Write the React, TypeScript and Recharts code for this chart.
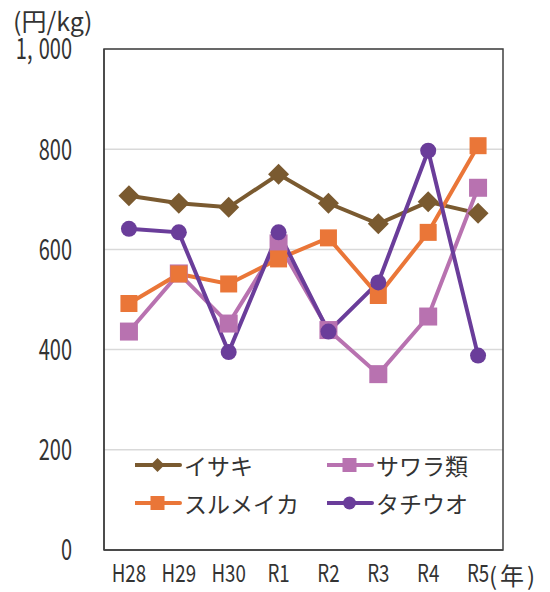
import React from 'react';
import {
  LineChart,
  Line,
  XAxis,
  YAxis,
  CartesianGrid,
  Legend,
  Label,
  ReferenceArea,
} from 'recharts';

// 年度
const years = ['H28', 'H29', 'H30', 'R1', 'R2', 'R3', 'R4', 'R5'];

// 魚種別の単価（円/kg）
const isaki = [707, 692, 684, 750, 692, 651, 695, 672];
const sawara = [436, 552, 452, 612, 439, 351, 466, 723];
const surumeika = [492, 551, 531, 581, 623, 508, 634, 807];
const tachiuo = [641, 634, 395, 634, 436, 534, 797, 388];

const yTicks = [0, 200, 400, 600, 800, 1000];

const data = years.map((year, i) => ({
  year,
  isaki: isaki[i],
  sawara: sawara[i],
  surumeika: surumeika[i],
  tachiuo: tachiuo[i],
}));

const FONT = "'Noto Sans CJK JP', 'Noto Sans', sans-serif";
const TEXT = '#333333';
const FRAME = '#404040';

const COLORS = {
  isaki: '#7a5a30',
  sawara: '#b872b0',
  surumeika: '#ea7638',
  tachiuo: '#6a3d9a',
};

type Shape = 'diamond' | 'square' | 'circle';

const Marker = ({ cx, cy, shape, color, size }: { cx: number; cy: number; shape: Shape; color: string; size: number }) => {
  if (shape === 'diamond') {
    const h = size / 2;
    return <polygon points={`${cx},${cy - h} ${cx + h},${cy} ${cx},${cy + h} ${cx - h},${cy}`} fill={color} />;
  }
  if (shape === 'square') {
    return <rect x={cx - size / 2} y={cy - size / 2} width={size} height={size} fill={color} />;
  }
  return <circle cx={cx} cy={cy} r={size / 2} fill={color} />;
};

const makeDot = (shape: Shape, color: string, size: number) => (props: any) => {
  const { cx, cy, index } = props;
  if (cx == null || cy == null) return <g key={index} />;
  return (
    <g key={`${shape}-${index}`}>
      <Marker cx={cx} cy={cy} shape={shape} color={color} size={size} />
    </g>
  );
};

// Narrow tick text, compressed horizontally around its anchor point;
// a thousands comma gets a little extra room after it
const NarrowTick = (props: any) => {
  const { x, y, payload, textAnchor, tickFormatter, dy, size, squeeze } = props;
  const value = String(tickFormatter ? tickFormatter(payload.value, payload.index) : payload.value);
  const parts = value.split(',');
  return (
    <text
      transform={`translate(${x},${y}) scale(${squeeze},1)`}
      textAnchor={textAnchor}
      dy={dy}
      fill={TEXT}
      fontSize={size}
      fontFamily={FONT}
    >
      {parts.map((p, i) => (
        <tspan key={i} dx={i > 0 ? 9 : 0}>
          {p}
          {i < parts.length - 1 ? ',' : ''}
        </tspan>
      ))}
    </text>
  );
};

const XTick = (props: any) => <NarrowTick {...props} dy="0.36em" size={24} squeeze={0.78} />;
const YTick = (props: any) => <NarrowTick {...props} dy="0.36em" size={29} squeeze={0.69} />;

const legendItems: { label: string; shape: Shape; color: string; size: number }[] = [
  { label: 'イサキ', shape: 'diamond', color: COLORS.isaki, size: 14 },
  { label: 'サワラ類', shape: 'square', color: COLORS.sawara, size: 14 },
  { label: 'スルメイカ', shape: 'square', color: COLORS.surumeika, size: 14 },
  { label: 'タチウオ', shape: 'circle', color: COLORS.tachiuo, size: 13 },
];

const renderLegend = () => (
  <div
    style={{
      display: 'grid',
      gridTemplateColumns: '192px 150px',
      rowGap: 12,
      fontFamily: FONT,
      fontSize: 23,
      color: TEXT,
    }}
  >
    {legendItems.map((item) => (
      <div key={item.label} style={{ display: 'flex', alignItems: 'center', height: 26 }}>
        <svg width={48} height={20} style={{ marginRight: 1 }}>
          <line x1={0} y1={10} x2={45} y2={10} stroke={item.color} strokeWidth={4} strokeLinecap="round" />
          <Marker cx={22.5} cy={10} shape={item.shape} color={item.color} size={item.size} />
        </svg>
        <span style={{ lineHeight: '26px', whiteSpace: 'nowrap' }}>{item.label}</span>
      </div>
    ))}
  </div>
);

const UnitLabel = (props: any) => {
  const { viewBox } = props;
  return (
    <text
      x={viewBox.x + viewBox.width - 91}
      y={viewBox.y - 29}
      fill={TEXT}
      fontFamily={FONT}
      fontSize={25}
      dominantBaseline="central"
    >
      (円/kg)
    </text>
  );
};

const YearLabel = (props: any) => {
  const { viewBox } = props;
  return (
    <text
      x={viewBox.x + viewBox.width - 14}
      y={viewBox.y + 24}
      fill={TEXT}
      fontFamily={FONT}
      fontSize={24}
      letterSpacing={3}
      dominantBaseline="central"
    >
      (年)
    </text>
  );
};

export default function App() {
  return (
    <div style={{ position: 'absolute', left: 0, top: 0 }}>
      <LineChart
        width={550}
        height={592}
        data={data}
        margin={{ top: 49, right: 47, bottom: 0, left: 0 }}
        style={{ fontFamily: FONT }}
      >
        <CartesianGrid horizontal vertical={false} stroke="#d9d9d9" strokeWidth={1.5} />
        <XAxis
          dataKey="year"
          scale="band"
          height={42}
          interval={0}
          tickLine={false}
          tickSize={0}
          tickMargin={23}
          axisLine={{ stroke: FRAME, strokeWidth: 1.5 }}
          tick={<XTick />}
        >
          <Label content={<YearLabel />} />
        </XAxis>
        <YAxis
          width={104}
          domain={[0, 1000]}
          ticks={yTicks}
          tickLine={false}
          tickSize={0}
          tickMargin={32}
          axisLine={{ stroke: FRAME, strokeWidth: 1.5 }}
          tick={<YTick />}
          tickFormatter={(v: number) => v.toLocaleString('en-US')}
        >
          <Label content={<UnitLabel />} />
        </YAxis>
        {/* plot frame */}
        <ReferenceArea y1={0} y2={1000} fill="none" stroke={FRAME} strokeWidth={1.5} ifOverflow="visible" />
        <Legend
          layout="vertical"
          align="center"
          verticalAlign="middle"
          content={renderLegend}
          wrapperStyle={{ position: 'absolute', top: 452, left: 135, width: 350 }}
        />
        <Line dataKey="isaki" name="イサキ" stroke={COLORS.isaki} strokeWidth={4} isAnimationActive={false} dot={makeDot('diamond', COLORS.isaki, 21)} activeDot={false} />
        <Line dataKey="sawara" name="サワラ類" stroke={COLORS.sawara} strokeWidth={4} isAnimationActive={false} dot={makeDot('square', COLORS.sawara, 18)} activeDot={false} />
        <Line dataKey="surumeika" name="スルメイカ" stroke={COLORS.surumeika} strokeWidth={4} isAnimationActive={false} dot={makeDot('square', COLORS.surumeika, 17)} activeDot={false} />
        <Line dataKey="tachiuo" name="タチウオ" stroke={COLORS.tachiuo} strokeWidth={4} isAnimationActive={false} dot={makeDot('circle', COLORS.tachiuo, 16)} activeDot={false} />
      </LineChart>
    </div>
  );
}
